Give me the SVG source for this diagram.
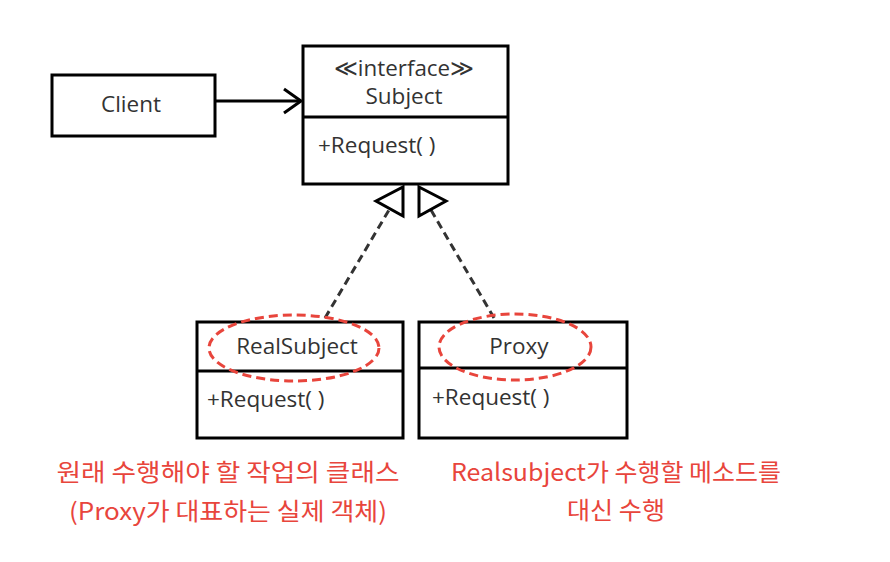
<svg xmlns="http://www.w3.org/2000/svg" width="890" height="562" viewBox="0 0 890 562">
<style>
.box{fill:#fff;stroke:#000;stroke-width:3}
.t{font-family:"Open Sans","Noto Sans",sans-serif;font-size:22.5px;fill:#333}
.r{font-family:"Noto Sans CJK KR",sans-serif;font-size:24px;fill:#e8453c;text-anchor:middle}
.ell{fill:none;stroke:#e8453c;stroke-width:3;stroke-dasharray:9 5}
.dash{stroke:#333;stroke-width:3;stroke-dasharray:8 5;fill:none}
</style>
<rect width="890" height="562" fill="#fff"/>
<g id="connectors">
<line x1="215" y1="101" x2="301" y2="101" stroke="#000" stroke-width="3"/>
<polyline points="284,89 301,101 284,113" fill="none" stroke="#000" stroke-width="3"/>
<line class="dash" x1="325" y1="318" x2="389" y2="210"/>
<line class="dash" x1="494" y1="318" x2="431" y2="210"/>
<polygon points="376,201 403,187 403,216" fill="#fff" stroke="#000" stroke-width="3"/>
<polygon points="419,187 446,201 419,216" fill="#fff" stroke="#000" stroke-width="3"/>
</g>
<g id="client">
<rect class="box" x="52" y="75" width="163" height="61"/>
<text class="t" x="131" y="112" text-anchor="middle">Client</text>
</g>
<g id="subject">
<rect class="box" x="303" y="46" width="205" height="138"/>
<line x1="303" y1="117" x2="508" y2="117" stroke="#000" stroke-width="3"/>
<text class="t" x="404" y="76" text-anchor="middle" textLength="140" lengthAdjust="spacingAndGlyphs">≪interface≫</text>
<text class="t" x="404" y="104" text-anchor="middle">Subject</text>
<text class="t" x="318" y="153">+Request( )</text>
</g>
<g id="realsubject">
<rect class="box" x="197" y="322" width="206" height="116"/>
<line x1="197" y1="371" x2="403" y2="371" stroke="#000" stroke-width="3"/>
<text class="t" x="297" y="354" text-anchor="middle">RealSubject</text>
<text class="t" x="207" y="407">+Request( )</text>
<ellipse class="ell" cx="294" cy="348" rx="85" ry="33"/>
</g>
<g id="proxy">
<rect class="box" x="419" y="322" width="208" height="116"/>
<line x1="419" y1="368" x2="627" y2="368" stroke="#000" stroke-width="3"/>
<text class="t" x="519" y="354" text-anchor="middle">Proxy</text>
<text class="t" x="432" y="405">+Request( )</text>
<ellipse class="ell" cx="515" cy="347" rx="76" ry="33"/>
</g>
<g id="notes">
<text class="r" x="228" y="481" textLength="343" lengthAdjust="spacingAndGlyphs">원래 수행해야 할 작업의 클래스</text>
<text class="r" x="228" y="520" textLength="318" lengthAdjust="spacingAndGlyphs">(Proxy가 대표하는 실제 객체)</text>
<text class="r" x="616" y="481" textLength="330" lengthAdjust="spacingAndGlyphs">Realsubject가 수행할 메소드를</text>
<text class="r" x="616" y="519" textLength="98" lengthAdjust="spacingAndGlyphs">대신 수행</text>
</g>
</svg>
